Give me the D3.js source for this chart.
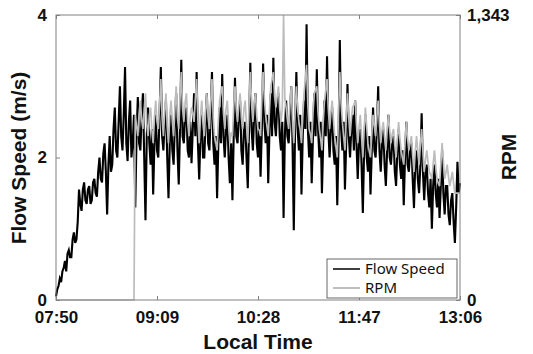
<!DOCTYPE html>
<html>
<head>
<meta charset="utf-8">
<script src="https://cdn.jsdelivr.net/npm/d3@7"></script>
<style>
  body { margin: 0; background: #fff; }
  svg { display: block; font-family: "Liberation Sans", Arial, sans-serif; }
</style>
</head>
<body>
<div id="chart"></div>
<script>
// sampling: one reading every minute starting 07:50
const startTime = "07:50";
const stepMinutes = 1;
const timeTicks = ["07:50", "09:09", "10:28", "11:47", "13:06"];
const flowTicks = [0, 2, 4];
const rpmTicks = [0, 1343];

// flow speed (m/s)
const flowSpeed = [
  0.05, 0.15, 0.2, 0.3, 0.25, 0.4, 0.45, 0.55, 0.4, 0.65,
  0.7, 0.6, 0.6, 0.85, 0.95, 0.8, 0.85, 1.1, 1.55, 1.35,
  1.25, 1.55, 1.65, 1.4, 1.35, 1.55, 1.6, 1.35, 1.4, 1.65,
  1.7, 1.5, 1.45, 1.8, 2.0, 1.7, 1.65, 2.05, 2.2, 1.8,
  1.2, 1.9, 2.3, 1.8, 1.9, 2.4, 2.7, 2.1, 2.0, 2.5,
  3.0, 2.3, 2.1, 2.6, 3.27, 2.2, 1.95, 2.5, 2.8, 2.0,
  2.2, 2.6, 1.3, 2.3, 2.85, 2.2, 2.1, 2.6, 2.9, 2.0,
  1.12, 2.3, 2.7, 2.2, 1.9, 2.4, 1.48, 2.2, 2.6, 2.1,
  2.0, 2.6, 3.27, 2.3, 2.1, 2.5, 2.8, 2.0, 1.43, 2.2,
  2.6, 2.1, 1.9, 2.5, 2.9, 2.1, 1.62, 2.4, 3.37, 2.3,
  2.2, 2.6, 2.7, 2.1, 2.0, 2.5, 1.92, 2.4, 2.9, 2.3,
  3.2, 2.2, 1.69, 2.3, 2.6, 2.0, 2.0, 2.5, 2.9, 2.2,
  2.1, 2.6, 3.2, 2.2, 1.9, 2.3, 1.43, 2.2, 2.7, 2.2,
  3.17, 2.3, 2.0, 2.4, 2.6, 2.0, 1.64, 2.2, 1.4, 2.3,
  3.12, 2.3, 2.2, 2.6, 2.8, 2.1, 1.9, 2.4, 2.5, 2.0,
  1.57, 2.4, 3.33, 2.4, 2.1, 2.6, 2.9, 2.2, 2.0, 2.5,
  1.73, 2.4, 3.32, 2.5, 2.2, 2.6, 1.64, 2.4, 2.9, 2.3,
  3.4, 2.5, 2.3, 2.7, 2.9, 2.3, 2.1, 2.5, 1.15, 2.3,
  2.8, 2.3, 2.2, 2.6, 3.0, 2.2, 0.98, 2.4, 3.2, 2.4,
  2.1, 2.6, 1.48, 2.3, 2.8, 2.4, 3.87, 2.4, 2.0, 2.5,
  1.64, 2.3, 2.9, 2.3, 3.24, 2.4, 2.0, 2.5, 1.5, 2.2,
  2.8, 2.3, 3.42, 2.4, 2.0, 2.4, 2.7, 2.1, 1.9, 2.3,
  1.33, 2.2, 3.65, 2.4, 2.1, 2.5, 1.55, 2.2, 3.03, 2.3,
  2.0, 2.4, 2.6, 2.1, 2.8, 2.2, 1.7, 2.2, 2.4, 1.9,
  1.22, 2.1, 2.6, 2.0, 1.8, 2.3, 1.48, 2.1, 2.7, 2.1,
  2.0, 2.4, 3.0, 2.1, 1.8, 2.2, 2.4, 1.9, 1.6, 2.1,
  2.6, 2.0, 1.9, 2.2, 2.3, 1.8, 1.6, 2.1, 2.4, 1.9,
  1.7, 2.1, 1.33, 2.0, 2.5, 1.9, 1.8, 2.1, 2.2, 1.7,
  1.29, 1.9, 2.1, 1.7, 1.5, 1.9, 2.62, 1.8, 1.4, 1.8,
  1.9, 1.5, 1.3, 1.7, 1.0, 1.6, 1.9, 1.5, 1.3, 1.7,
  1.15, 1.6, 2.1, 1.5, 1.2, 1.6, 1.6, 1.2, 1.05, 1.4,
  1.5, 1.1, 0.8, 1.3, 1.94, 1.5, 1.64
];

// rotor speed (RPM), same sampling; turbine idle until ~08:52
const rpm = [
  0, 0, 0, 0, 0, 0, 0, 0, 0, 0,
  0, 0, 0, 0, 0, 0, 0, 0, 0, 0,
  0, 0, 0, 0, 0, 0, 0, 0, 0, 0,
  0, 0, 0, 0, 0, 0, 0, 0, 0, 0,
  0, 0, 0, 0, 0, 0, 0, 0, 0, 0,
  0, 0, 0, 0, 0, 0, 0, 0, 0, 0,
  0, 0,
  873, 820, 772, 880, 940, 850, 806, 900, 974, 830,
  772, 870, 907, 800, 739, 860, 940, 840, 806, 920,
  1041, 860, 772, 890, 974, 820, 739, 870, 940, 840,
  772, 900, 1007, 860, 806, 950, 1074, 900, 839, 930,
  974, 840, 772, 860, 907, 880, 839, 950, 1041, 850,
  739, 860, 940, 830, 772, 890, 974, 860, 806, 930,
  1041, 860, 772, 740, 705, 850, 940, 980, 1007, 880,
  806, 900, 940, 820, 739, 790, 772, 910, 1007, 900,
  839, 920, 974, 860, 806, 900, 940, 820, 739, 920,
  1074, 920, 839, 930, 974, 870, 806, 800, 772, 950,
  1074, 950, 873, 820, 772, 900, 1007, 1040, 1074, 960,
  907, 960, 1007, 900, 839, 900, 1343, 950, 907, 850,
  806, 920, 1007, 850, 739, 880, 1007, 900, 839, 800,
  739, 860, 974, 1040, 1108, 920, 806, 780, 739, 880,
  974, 990, 1007, 880, 806, 760, 705, 840, 940, 990,
  1041, 900, 806, 880, 940, 850, 772, 720, 672, 880,
  1074, 930, 839, 770, 705, 850, 974, 860, 772, 850,
  907, 920, 940, 830, 739, 810, 873, 770, 672, 800,
  907, 820, 739, 700, 672, 780, 873, 820, 772, 860,
  940, 830, 739, 800, 839, 770, 705, 800, 873, 800,
  739, 780, 806, 730, 672, 760, 839, 760, 705, 670,
  638, 740, 839, 760, 705, 740, 772, 680, 604, 700,
  772, 700, 638, 730, 806, 700, 604, 660, 705, 650,
  604, 590, 571, 640, 705, 630, 571, 550, 537, 640,
  739, 650, 571, 600, 638, 580, 537, 570, 604, 550,
  504, 504, 504, 504, 504
];

const width = 533;
const height = 354;
const margin = { top: 15, right: 73, bottom: 54, left: 56 };

const parseTime = d3.timeParse("%H:%M");
const t0 = parseTime(startTime);
const timeAt = i => d3.timeMinute.offset(t0, i * stepMinutes);

const svg = d3.select("#chart")
  .append("svg")
  .attr("width", width)
  .attr("height", height);

const x = d3.scaleTime()
  .domain([parseTime(timeTicks[0]), parseTime(timeTicks[timeTicks.length - 1])])
  .range([margin.left, width - margin.right]);

const yFlow = d3.scaleLinear()
  .domain([0, 4])
  .range([height - margin.bottom, margin.top]);

const yRpm = d3.scaleLinear()
  .domain([0, 1343])
  .range([height - margin.bottom, margin.top]);

// lines
const flowLine = d3.line()
  .x((d, i) => x(timeAt(i)))
  .y(d => yFlow(d));

const rpmLine = d3.line()
  .x((d, i) => x(timeAt(i)))
  .y(d => yRpm(d));

const plot = svg.append("g");

plot.append("path")
  .datum(flowSpeed)
  .attr("fill", "none")
  .attr("stroke", "#000")
  .attr("stroke-width", 2.1)
  .attr("d", flowLine);

plot.append("path")
  .datum(rpm)
  .attr("fill", "none")
  .attr("stroke", "#bcbcbc")
  .attr("stroke-width", 1.7)
  .attr("d", rpmLine);

// frame
svg.append("rect")
  .attr("x", margin.left)
  .attr("y", margin.top)
  .attr("width", width - margin.left - margin.right)
  .attr("height", height - margin.top - margin.bottom)
  .attr("fill", "none")
  .attr("stroke", "#808080")
  .attr("stroke-width", 1);

// axes
const tickDates = timeTicks.map(parseTime);
const xAxis = d3.axisBottom(x)
  .tickValues(tickDates)
  .tickFormat(d3.timeFormat("%H:%M"))
  .tickSizeInner(-4)
  .tickSizeOuter(0)
  .tickPadding(11);

const xg = svg.append("g")
  .attr("transform", `translate(0, ${height - margin.bottom})`)
  .call(xAxis);

const xTop = d3.axisTop(x)
  .tickValues(tickDates)
  .tickFormat("")
  .tickSizeInner(-4)
  .tickSizeOuter(0);

const xtg = svg.append("g")
  .attr("transform", `translate(0, ${margin.top})`)
  .call(xTop);

const yAxisL = d3.axisLeft(yFlow)
  .tickValues(flowTicks)
  .tickFormat(d3.format("d"))
  .tickSizeInner(-4)
  .tickSizeOuter(0)
  .tickPadding(9);

const ylg = svg.append("g")
  .attr("transform", `translate(${margin.left}, 0)`)
  .call(yAxisL);

const yAxisR = d3.axisRight(yRpm)
  .tickValues(rpmTicks)
  .tickFormat(d3.format(","))
  .tickSizeInner(-4)
  .tickSizeOuter(0)
  .tickPadding(7);

const yrg = svg.append("g")
  .attr("transform", `translate(${width - margin.right}, 0)`)
  .call(yAxisR);

[xg, xtg, ylg, yrg].forEach(g => {
  g.select(".domain").remove();
  g.selectAll(".tick line").attr("stroke", "#808080");
  g.selectAll(".tick text")
    .attr("fill", "#111")
    .style("font-size", "17px")
    .style("font-weight", "bold")
    .style("font-family", "'Liberation Sans', Arial, sans-serif");
});

// axis titles
svg.append("text")
  .attr("x", (margin.left + width - margin.right) / 2)
  .attr("y", 349)
  .attr("text-anchor", "middle")
  .style("font-size", "21px")
  .style("font-weight", "bold")
  .attr("fill", "#111")
  .text("Local Time");

svg.append("text")
  .attr("transform", "rotate(-90)")
  .attr("x", -158)
  .attr("y", 26)
  .attr("text-anchor", "middle")
  .style("font-size", "21px")
  .style("font-weight", "bold")
  .attr("fill", "#111")
  .text("Flow Speed (m/s)");

svg.append("text")
  .attr("transform", "rotate(-90)")
  .attr("x", -157)
  .attr("y", 516)
  .attr("text-anchor", "middle")
  .style("font-size", "21px")
  .style("font-weight", "bold")
  .attr("fill", "#111")
  .text("RPM");

// legend
const legend = svg.append("g")
  .attr("transform", "translate(327, 259)");

legend.append("rect")
  .attr("width", 130)
  .attr("height", 39)
  .attr("fill", "#fff")
  .attr("stroke", "#666")
  .attr("stroke-width", 1);

const legendItems = [
  { label: "Flow Speed", color: "#000" },
  { label: "RPM", color: "#a8a8a8" }
];

legendItems.forEach((item, i) => {
  const row = legend.append("g")
    .attr("transform", `translate(0, ${10 + i * 19})`);
  row.append("line")
    .attr("x1", 6)
    .attr("x2", 33)
    .attr("stroke", item.color)
    .attr("stroke-width", 1.5);
  row.append("text")
    .attr("x", 38)
    .attr("y", 5)
    .style("font-family", "'Noto Sans', 'Open Sans', sans-serif")
    .style("font-size", "15px")
    .attr("fill", "#111")
    .text(item.label);
});
</script>
</body>
</html>
